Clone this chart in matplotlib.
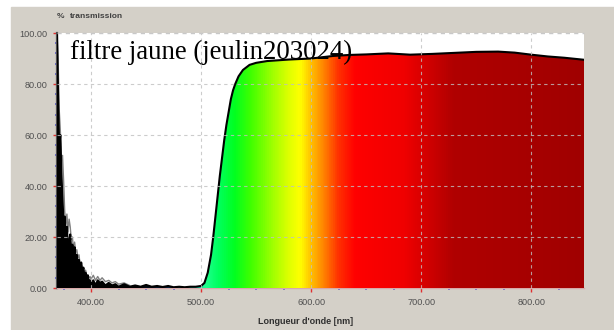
import numpy as np
import matplotlib
matplotlib.use("Agg")
import matplotlib.pyplot as plt
from matplotlib.colors import LinearSegmentedColormap
from matplotlib.ticker import MultipleLocator, FormatStrFormatter

# spectre de transmission du filtre jaune
wl = [369, 370, 371, 372, 373, 374, 375, 376, 377, 378, 379, 380, 381, 382,
      383, 384, 385, 386, 387, 388, 389, 390, 391, 392, 393, 394, 395, 396,
      397, 398, 399, 400, 402, 404, 406, 408, 410, 413, 416, 419, 422, 425,
      430, 435, 440, 445, 450, 455, 460, 465, 470, 475, 480, 485, 490, 495,
      500, 503, 506, 509, 511, 513, 515, 517, 519, 521, 523, 525, 527, 529,
      531, 534, 538, 544, 550, 560, 570, 580, 590, 600, 610, 620, 635, 650,
      670, 690, 710, 730, 750, 770, 785, 800, 815, 830, 848]
trans = [100, 75, 55, 60, 45, 35, 25, 28, 20, 24, 15, 18, 21, 14,
         17, 12, 16, 10, 13, 9, 11, 7, 10, 6, 8, 4, 6, 3,
         5, 2, 3, 2, 3, 1, 3, 2, 2.5, 1, 2, 1, 1.5, 0.5,
         1.5, 0.5, 1, 0.5, 1.2, 0.5, 0.8, 0.4, 0.8, 0.3, 0.5, 0.3, 0.5, 0.5,
         0.8, 2, 6, 13, 20, 28, 36, 44, 51, 58, 64, 69, 74, 77.5,
         80, 83, 85.5, 87.5, 88.3, 89, 89.3, 89.6, 89.8, 90, 90.5, 91, 91.4, 91.6,
         92, 91.5, 91.8, 92.2, 92.6, 92.7, 92.3, 91.5, 90.8, 90.3, 89.5]

# deuxieme mesure (bruit dans l'UV)
wl_uv = wl[:44]
trans_uv = [100, 90, 70, 62, 50, 52, 42, 30, 25, 29, 22, 27, 24, 19,
            20, 15, 18, 14, 15, 12, 13, 9, 10, 8, 7, 6, 7, 5,
            5, 4, 4.5, 3.5, 5, 3, 4.5, 3, 4, 2.5, 3, 2, 2.5, 1.5,
            2, 1]

# couleurs du spectre visible
stops_nm = [369, 440, 470, 495, 503, 515, 530, 545, 565, 580, 590, 600,
            612, 625, 640, 685, 730, 848]
stops_col = ["#000000", "#000000", "#002040", "#00c0a0", "#20ff90", "#00ff60",
             "#00ff20", "#40ff00", "#a0ff00", "#e0ff00", "#ffff00", "#ffc000",
             "#ff8000", "#ff3000", "#ff0000", "#f00000", "#b00000", "#a00000"]

pos = [(n - stops_nm[0]) / (stops_nm[-1] - stops_nm[0]) for n in stops_nm]
cmap = LinearSegmentedColormap.from_list("spectre", list(zip(pos, stops_col)))

plt.rcParams['font.family'] = ['Liberation Sans', 'DejaVu Sans']

fig = plt.figure(figsize=(6.14, 3.30), dpi=100)
fig.patch.set_facecolor("white")
fig.add_artist(plt.Rectangle((11 / 614, 0), 1, 323 / 330, transform=fig.transFigure,
                             color="#d4d0c8", zorder=0))

ax = fig.add_axes([57 / 614, 42 / 330, 527 / 614, 255 / 330])
ax.set_facecolor("white")

ax.plot(wl_uv, trans_uv, color="#808080", lw=1.0, zorder=2)

poly = ax.fill_between(wl, trans, 0, color="none", lw=0)
grad = np.linspace(wl[0], wl[-1], 1200).reshape(1, -1)
im = ax.imshow(grad, extent=[wl[0], wl[-1], 0, 100], aspect="auto",
               cmap=cmap, origin="lower", zorder=3)
im.set_clip_path(poly.get_paths()[0], transform=ax.transData)
ax.plot(wl, trans, color="black", lw=1.5, zorder=4)

ax.set_xlim(369, 848)
ax.set_ylim(0, 100)

ax.xaxis.set_major_locator(MultipleLocator(100))
ax.xaxis.set_minor_locator(MultipleLocator(25))
ax.yaxis.set_major_locator(MultipleLocator(20))
ax.yaxis.set_minor_locator(MultipleLocator(4))
ax.xaxis.set_major_formatter(FormatStrFormatter("%.2f"))
ax.yaxis.set_major_formatter(FormatStrFormatter("%.2f"))

ax.tick_params(which="major", length=3, width=1, color="#e03030",
               labelsize=6.6, labelcolor="#505050", pad=4)
ax.tick_params(which="minor", length=1.5, width=1.2, color="#6060d0")

for x in [400, 500, 600, 700, 800]:
    ax.axvline(x, color="#c0c0c0", lw=0.8, ls=(0, (3, 3)), alpha=0.8, zorder=5)
for y in [20, 40, 60, 80]:
    ax.axhline(y, color="#c0c0c0", lw=0.8, ls=(0, (3, 3)), alpha=0.8, zorder=5)
ax.axhline(100, color="#c8c8c8", lw=1.0, ls=(0, (3, 3)), clip_on=False, zorder=5)

for s in ["top", "right"]:
    ax.spines[s].set_visible(False)
ax.spines["left"].set_color("#505050")
ax.spines["left"].set_linewidth(1.6)
ax.spines["bottom"].set_color("#d8a8a8")
ax.spines["bottom"].set_linewidth(1.0)

ax.text(0.025, 0.9, "filtre jaune (jeulin203024)", transform=ax.transAxes,
        family=["Liberation Serif", "DejaVu Serif"], fontsize=19.4,
        color="black", zorder=6)

fig.text(57 / 614, 313 / 330, "%", fontsize=6, fontweight="bold",
         color="#404040", va="center")
fig.text(70 / 614, 313 / 330, "transmission", fontsize=6, fontweight="bold",
         color="#404040", va="center")
fig.text(306 / 614, 8 / 330, "Longueur d'onde [nm]", fontsize=6.5,
         fontweight="bold", color="#303030", ha="center", va="center")

fig.savefig("out.png", dpi=100)
